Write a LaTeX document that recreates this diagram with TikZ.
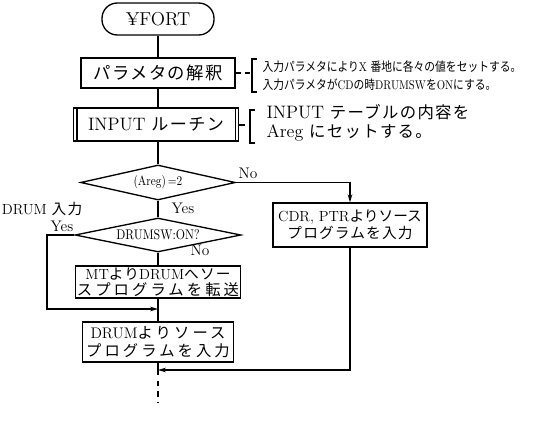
\documentclass[tikz,border=0pt]{standalone}
\usepackage{fontspec}
\usepackage{graphicx}
\newfontfamily\jp[LetterSpace=8]{Noto Sans CJK JP}
\newfontfamily\jpw[LetterSpace=20]{Noto Sans CJK JP}
\newfontfamily\jpn{Noto Sans CJK JP}
\usetikzlibrary{arrows.meta,shapes.geometric}
\newcommand\spacedlbl[1]{{\addfontfeatures{LetterSpace=18}#1}}
\begin{document}
\begin{tikzpicture}[x=0.75pt,y=-0.75pt,line width=0.9pt,
  box/.style={draw,rectangle,line width=1pt,inner xsep=1pt,inner ysep=0pt,align=center},
  decision/.style={draw,diamond,line width=1pt,inner sep=0pt},
  arr/.style={-{Stealth[length=6pt,width=3.5pt]}},
  lbl/.style={inner sep=0pt,font=\fontsize{11.5}{12}\selectfont},
  note/.style={inner sep=0pt,anchor=west,align=left}]
\useasboundingbox (0,0) rectangle (533,424);

% main column
\node[draw,line width=1pt,rounded corners=11.5pt,minimum width=84pt,minimum height=24pt,inner sep=0pt,font=\fontsize{14}{16}\selectfont] (term) at (158,19) {¥FORT};
\node[box,minimum width=115.5pt,minimum height=22.5pt,font=\fontsize{13}{15}\selectfont] (param) at (158,73) {{\jp パラメタの解釈}};
\node[box,minimum width=123.75pt,minimum height=24.75pt,font=\fontsize{13.5}{15}\selectfont] (inp) at (156,124.5) {INPUT {\jp\fontsize{12.8}{15}\selectfont ルーチン}};
\draw[line width=1pt] ([xshift=3pt]inp.north west) -- ([xshift=3pt]inp.south west);
\draw[line width=1pt] ([xshift=-3pt]inp.north east) -- ([xshift=-3pt]inp.south east);
\node[decision,shape aspect=4.4,minimum width=116pt,minimum height=26.25pt] (d1) at (158,182.5) {\scalebox{0.85}[1]{\fontsize{10}{12}\selectfont (Areg)\,=2}};
\node[decision,shape aspect=4.9,minimum width=124.5pt,minimum height=25.5pt] (d2) at (158,235) {\scalebox{0.85}[1]{\fontsize{10.5}{12}\selectfont DRUMSW:ON?}};
\node[box,minimum width=115.5pt,minimum height=24pt,font=\fontsize{11}{12}\selectfont] (mt) at (158,282) {MT{\jp より}DRUM{\jp へソー}\\{\jpw\fontsize{11.5}{12}\selectfont スプログラムを転送}};
\node[box,minimum width=113pt,minimum height=30pt,font=\fontsize{11.5}{13.5}\selectfont] (drum) at (158,342) {DRUM{\jpw よりソース}\\{\jpw プログラムを入力}};
\node[box,minimum width=115.5pt,minimum height=33pt,font=\fontsize{11}{12.5}\selectfont] (cdr) at (350,225) {CDR, PTR{\jpn よりソース}\\{\jp プログラムを入力}};

% helper coordinates
\coordinate (lb) at (47,309);
\coordinate (j1) at (158,309);
\coordinate (j2) at (158,370);
\coordinate (fin) at (158,403);
\coordinate (pbk) at (252,73);
\coordinate (ibk) at (250,125);

% connectors
\draw (term.south) -- (param.north);
\draw (param.south) -- (inp.north -| param.south);
\draw (inp.south -| d1.north) -- (d1.north);
\draw (d1.south) -- (d2.north);
\draw (d2.south) -- (mt.north);
\draw (mt.south) -- (drum.north);
\draw (drum.south) -- (j2);
\draw[dash pattern=on 4pt off 4pt] (j2) -- (fin);
\draw[arr] (d1.east) -| (cdr.north);
\draw[arr] (cdr.south) |- (j2);
\draw[arr] (d2.west) -| (lb) -- (j1);

% annotations
\draw[dash pattern=on 4pt off 3pt] (param.east |- pbk) -- (pbk);
\draw (257,59) -- (252,59) -- (252,92) -- (257,92);
\node[note,font=\fontsize{9.5}{13.5}\selectfont] (pnote) at (262,77) {\scalebox{0.85}[1]{\begin{tabular}{@{}l@{}}{\jpn 入力パラメタにより}X {\jpn 番地に各々の値をセットする。}\\{\jpn 入力パラメタが}CD{\jpn の時}DRUMSW{\jpn を}ON{\jpn にする。}\end{tabular}}};

\draw[dash pattern=on 4pt off 3pt] (inp.east |- ibk) -- (ibk);
\draw (255,110) -- (250,110) -- (250,143) -- (255,143);
\node[note,font=\fontsize{13.5}{14}\selectfont] (inote) at (266,123) {INPUT {\jp\fontsize{12.3}{14}\selectfont テーブルの内容を}\\Areg {\jp\fontsize{12.3}{14}\selectfont にセットする。}};

% branch labels
\node[lbl] (no1) at (248,173) {\spacedlbl{No}};
\node[lbl] (yes1) at (183,208) {\spacedlbl{Yes}};
\node[lbl,font=\fontsize{11}{12}\selectfont] (drumin) at (42,209) {DRUM {\jp 入力}};
\node[lbl] (yes2) at (62,226) {\spacedlbl{Yes}};
\node[lbl] (no2) at (200,250) {\spacedlbl{No}};
\end{tikzpicture}
\end{document}
